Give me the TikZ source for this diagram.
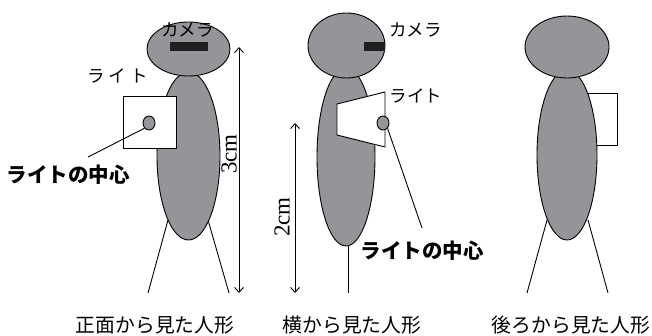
\documentclass[tikz,border=0pt]{standalone}
\usepackage{fontspec}
\setmainfont{Liberation Serif}
\newfontfamily\jp{Noto Sans CJK JP}
\usetikzlibrary{shapes.geometric,arrows.meta}
\definecolor{dollgray}{RGB}{147,149,152}
\tikzset{
  doll/.style={draw=black, fill=dollgray, line width=0.9pt},
  limb/.style={draw=black, line width=0.9pt},
  lightbox/.style={draw=black, fill=white, line width=0.9pt},
  cam/.style={fill=black!88, draw=none},
  dot/.style={ellipse, draw=black, fill=dollgray, line width=0.9pt, minimum width=12pt, minimum height=14pt, inner sep=0pt},
  lab/.style={inner sep=0pt, font=\jp\fontsize{17.5}{18}\selectfont},
  boldlab/.style={inner sep=0pt, font=\jp\bfseries\fontsize{20.5}{21}\selectfont},
  captext/.style={inner sep=0pt, font=\jp\fontsize{19.8}{20}\selectfont},
  dimtext/.style={inner sep=0pt, font=\fontsize{23}{23}\selectfont, rotate=90},
  leader/.style={draw=black, line width=0.9pt},
  dim/.style={draw=black, line width=0.9pt, {Straight Barb[length=5pt,width=9pt]}-{Straight Barb[length=5pt,width=9pt]}}
}
\begin{document}
\begin{tikzpicture}[x=1pt, y=-1pt]
\useasboundingbox (0,0) rectangle (652,336);

% ---------- front view ----------
\draw[limb] (168,220) -- (148,293);
\draw[limb] (208,220) -- (229,293);
\draw[doll] (188.5,156) ellipse [x radius=31.5, y radius=84];
\draw[doll] (188.5,49) ellipse [x radius=41.5, y radius=27];
\fill[cam] (170,42) rectangle (208,51);
\node[lab] (camA) at (187.5,30) {カメラ};
\draw[lightbox] (123,96) rectangle (176,148);
\node[dot] (dotA) at (149,123) {};
\node[lab] (lightA) at (117.5,76.5) {ラ\hspace{4pt}イ\hspace{4pt}ト};
\node[boldlab] (centerA) at (68,175) {ライトの中心};
\coordinate (leadA) at (88,157);
\draw[leader] (dotA.south west) -- (leadA);
\coordinate (dimAtop) at (239,47);
\coordinate (dimAbot) at (239,293);
\draw[dim] (dimAtop) -- (dimAbot);
\node[dimtext] (dimAlab) at (229,154) {3cm};
\node[captext] (capA) at (155,325) {正面から見た人形};

% ---------- side view ----------
\draw[limb] (348,240) -- (348,293);
\draw[doll] (346,157) ellipse [x radius=29, y radius=89];
\draw[doll] (346.5,45.5) ellipse [x radius=38.5, y radius=32.5];
\fill[cam] (364,42) rectangle (385,51);
\node[lab] (camB) at (415.5,30) {カメラ};
\draw[lightbox] (337,104) -- (385,92) -- (385,147) -- (337,135) -- cycle;
\node[dot] (dotB) at (383,123) {};
\node[lab] (lightB) at (416,96) {ライト};
\node[boldlab] (centerB) at (422,251) {ライトの中心};
\coordinate (leadB) at (422,228);
\draw[leader] (dotB.south east) -- (leadB);
\coordinate (dimBtop) at (295,123);
\coordinate (dimBbot) at (295,293);
\draw[dim] (dimBtop) -- (dimBbot);
\node[dimtext] (dimBlab) at (282,217) {2cm};
\node[captext] (capB) at (352,325) {横から見た人形};

% ---------- back view ----------
\draw[limb] (547,220) -- (527,293);
\draw[limb] (588,220) -- (608,293);
\draw[lightbox] (588,93) rectangle (617,145);
\draw[doll] (567,155) ellipse [x radius=30, y radius=85];
\draw[doll] (567,47) ellipse [x radius=42, y radius=31];
\node[captext, anchor=east] (capC) at (650.5,325) {後ろから見た人形};
\end{tikzpicture}
\end{document}
